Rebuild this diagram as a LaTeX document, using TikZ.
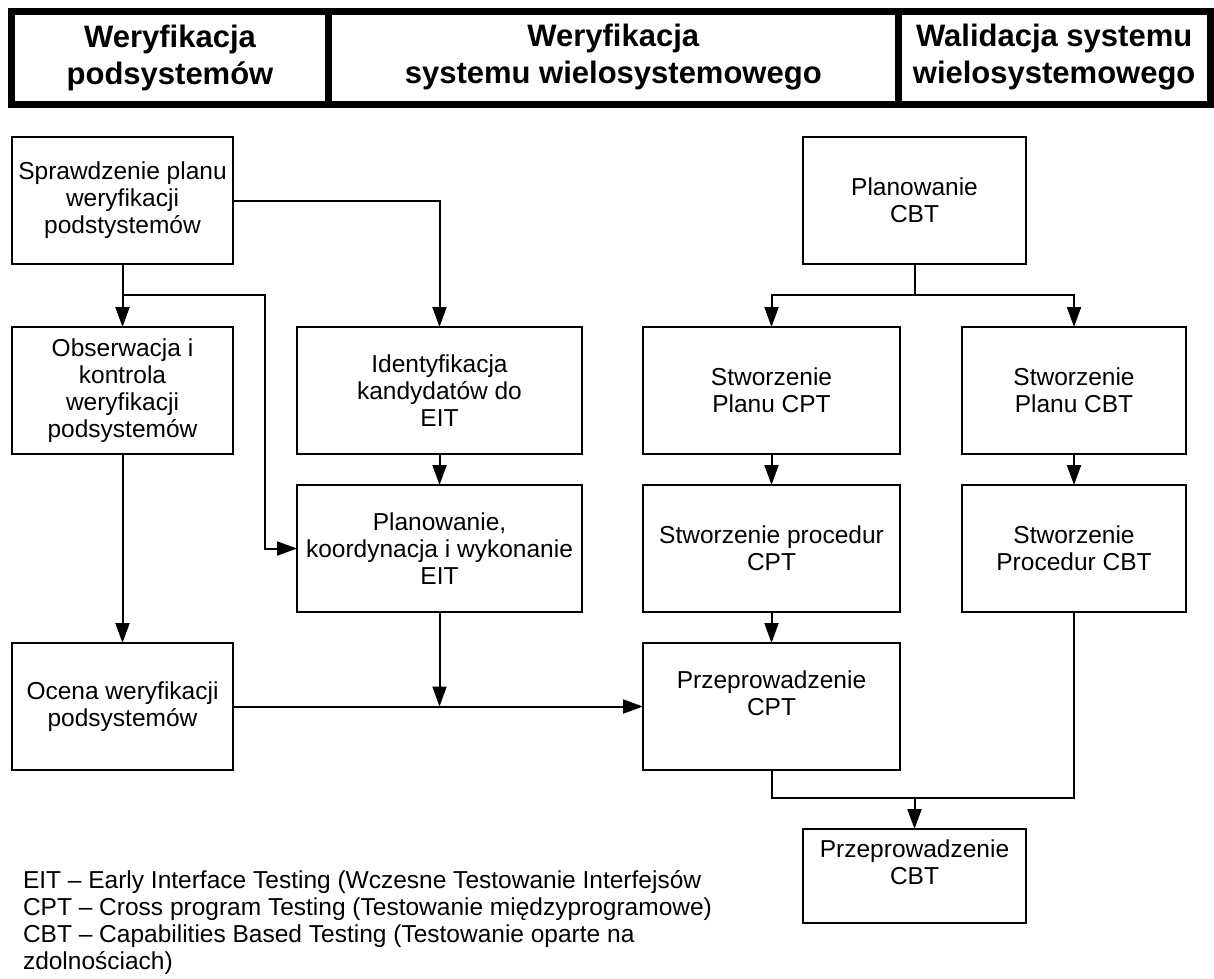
\documentclass[tikz,border=0pt]{standalone}
\usepackage{fontspec}
\setmainfont{Liberation Sans}
\usetikzlibrary{positioning,arrows.meta}

\newcommand{\boxfont}{\fontsize{24.5}{27}\selectfont}
\newcommand{\headfont}{\bfseries\fontsize{31}{37}\selectfont}

\begin{document}
\begin{tikzpicture}[x=1pt, y=-1pt, line width=2pt,
  >={Triangle[length=20pt,width=14pt]},
  main/.style = {draw, align=center, outer sep=0pt, inner sep=2pt, font=\boxfont, minimum height=127pt},
  head/.style = {draw, line width=7pt, align=center, outer sep=0pt, font=\headfont, minimum height=93pt},
  legend/.style = {anchor=base west, inner sep=0pt, font=\boxfont}]
\useasboundingbox (0,0) rectangle (1214,978);

% header
\node[head, minimum width=316.6pt] (h1) at (170,57.5) {Weryfikacja\\podsystemów};
\node[head, minimum width=570pt, right=0pt of h1] (h2) {Weryfikacja\\systemu wielosystemowego};
\node[head, minimum width=311.7pt, right=0pt of h2] (h3) {Walidacja systemu\\wielosystemowego};

% boxes
\node[main, minimum width=221pt] (spr) at (122.5,200.5) {Sprawdzenie planu\\weryfikacji\\podstystemów};
\node[main, minimum width=221pt, below=63pt of spr] (obs) {Obserwacja i\\kontrola\\weryfikacji\\podsystemów};
\node[main, minimum width=221pt, below=189pt of obs] (ocena) {Ocena weryfikacji\\podsystemów};
\node[main, minimum width=285pt, right=64pt of obs] (ident) {Identyfikacja\\kandydatów do\\EIT};
\node[main, minimum width=285pt, below=31pt of ident] (eit) {Planowanie,\\koordynacja i wykonanie\\EIT};
\node[main, minimum width=257pt, right=61pt of ident] (plancpt) {Stworzenie\\Planu CPT};
\node[main, minimum width=224pt, right=62pt of plancpt] (plancbt) {Stworzenie\\Planu CBT};
\node[main, minimum width=257pt, below=31pt of plancpt] (proccpt) {Stworzenie procedur\\CPT};
\node[main, minimum width=224pt, below=31pt of plancbt] (proccbt) {Stworzenie\\Procedur CBT};
\node[main, minimum width=257pt, below=31pt of proccpt] (przcpt) {Przeprowadzenie\\CPT\\~};
\node[main, minimum width=223pt] (planow) at (914.5,200.5) {Planowanie\\CBT};
\node[main, minimum width=223pt, minimum height=94pt] (przcbt) at (914.5,876) {Przeprowadzenie\\CBT\\~};

% joints
\coordinate (j1) at (122.5,295);
\coordinate (j2) at (265,295);
\coordinate (j3) at (eit |- ocena);
\coordinate (j4) at (planow |- j1);
\coordinate (j5) at (914.5,798);

\draw[->] (spr) -| (ident);
\draw[->] (spr) -- (obs);
\draw[->] (j1) -- (j2) |- (eit);
\draw[->] (obs) -- (ocena);
\draw[->] (ident) -- (eit);
\draw[->] (eit) -- (j3);
\draw[->] (ocena) -- (przcpt);
\draw (planow) -- (j4);
\draw[->] (j4) -| (plancpt);
\draw[->] (j4) -| (plancbt);
\draw[->] (plancpt) -- (proccpt);
\draw[->] (proccpt) -- (przcpt);
\draw[->] (plancbt) -- (proccbt);
\draw (przcpt) |- (j5) -| (proccbt);
\draw[->] (j5) -- (przcbt);

% legend
\node[legend] (leg1) at (22,888) {EIT – Early Interface Testing (Wczesne Testowanie Interfejsów};
\node[legend] (leg2) at (22,915) {CPT – Cross program Testing (Testowanie międzyprogramowe)};
\node[legend] (leg3) at (22,942) {CBT – Capabilities Based Testing (Testowanie oparte na};
\node[legend] (leg4) at (22,969) {zdolnościach)};
\end{tikzpicture}
\end{document}
